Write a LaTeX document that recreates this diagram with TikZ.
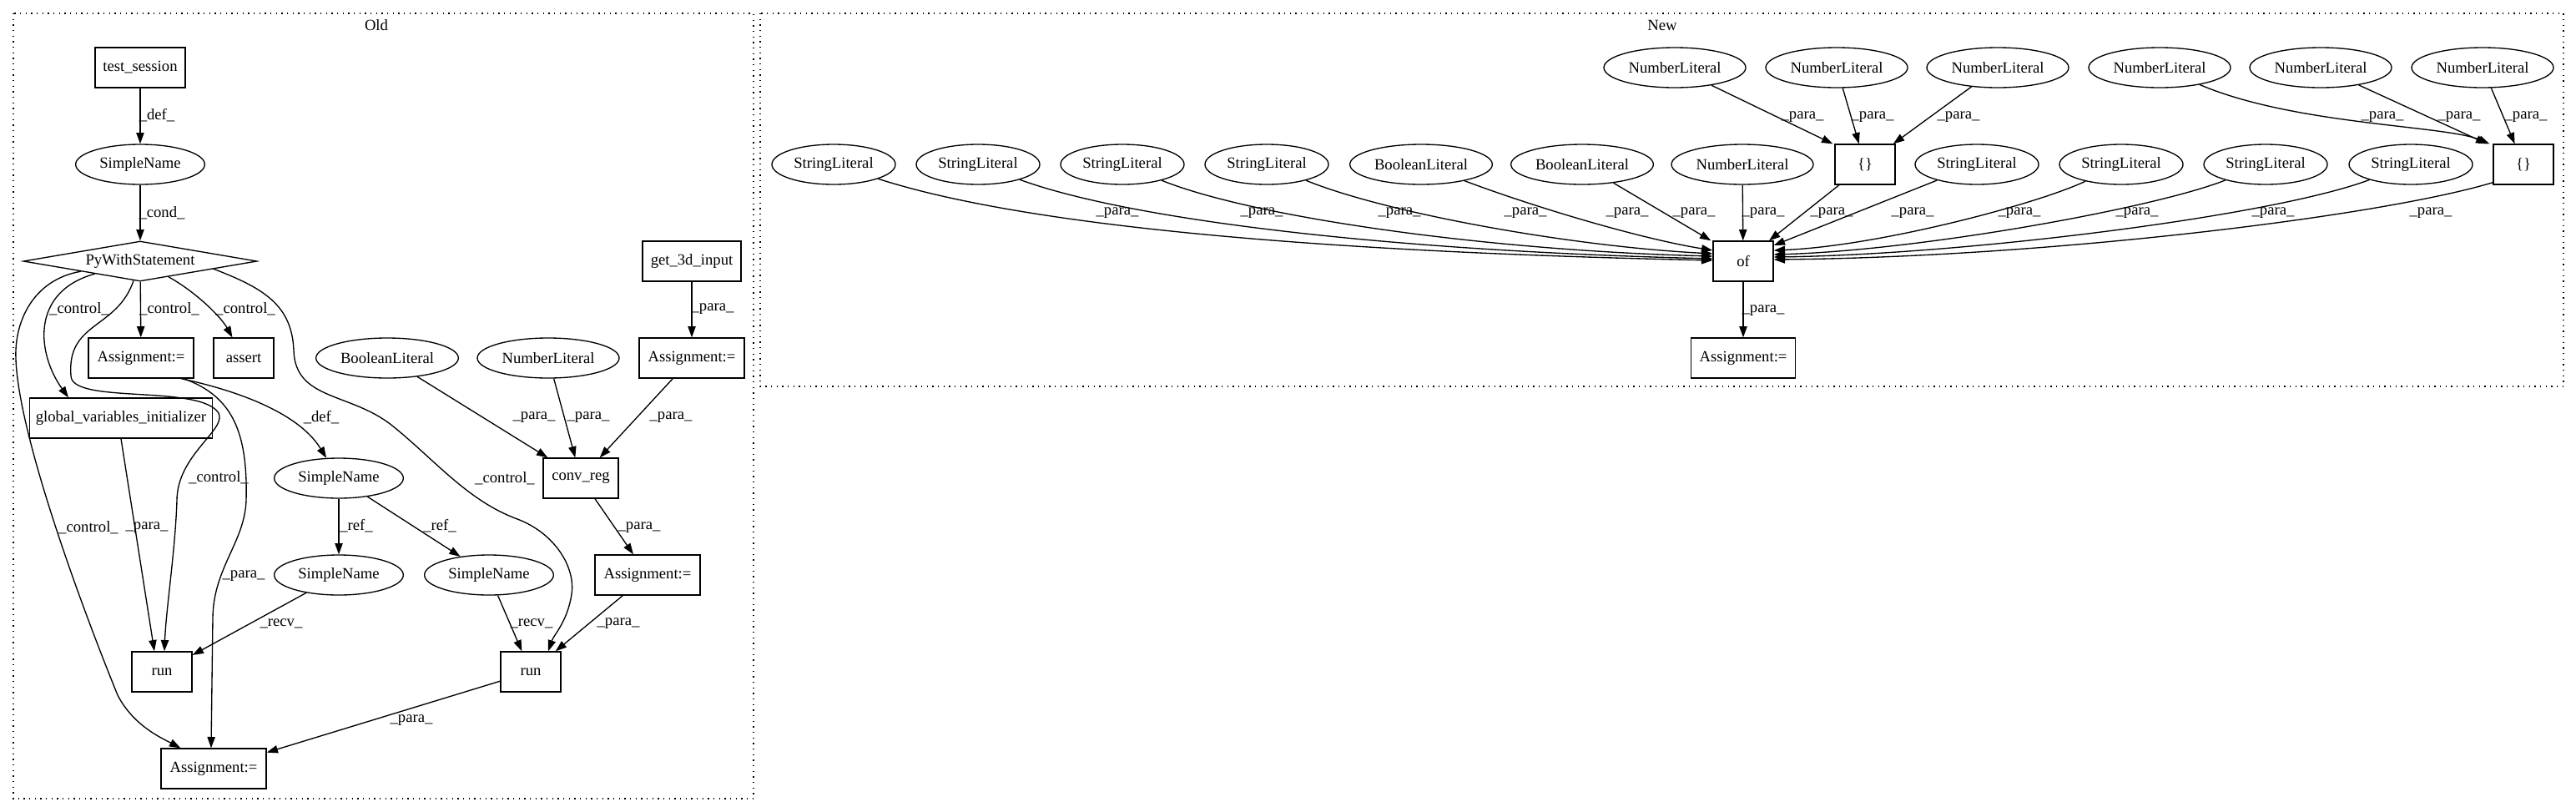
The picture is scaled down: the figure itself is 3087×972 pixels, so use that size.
\documentclass[tikz,border=0pt]{standalone}
\usepackage{fontspec}
\setmainfont{Liberation Serif}
\usetikzlibrary{shapes.geometric,arrows.meta,calc}
\tikzset{
  bx/.style={draw, rectangle, line width=1pt, minimum height=36pt, inner sep=0pt},
  el/.style={draw, ellipse, line width=1pt, minimum height=36pt, inner sep=0pt},
  dia/.style={draw, diamond, aspect=5.8, line width=1pt, minimum width=210pt, minimum height=36pt, inner sep=0pt},
  lbl/.style={inner sep=0pt},
  arr/.style={-{Triangle[length=10pt,width=7pt]}, line width=1pt},
  cl/.style={draw, line width=1pt, dash pattern=on 1pt off 4pt}
}
\begin{document}
\begin{tikzpicture}[x=0.75pt,y=-0.75pt,font=\fontsize{14}{16}\selectfont]
\useasboundingbox (0,0) rectangle (3087,972);
% clusters
\draw[cl] (16,16) rectangle (903,957);
\draw[cl] (911,16) rectangle (3072,463);
\node[lbl] (oldlbl) at (451,30) {Old};
\node[lbl] (newlbl) at (1992,30) {New};

% ---------------- Old ----------------
\node[bx, minimum width=81pt] (ts) at (168,81) {test\_session};
\node[el, minimum width=116pt] (sn1) at (168,197) {SimpleName};
\node[dia] (py) at (168,313) {PyWithStatement};
\node[bx, minimum width=88.5pt] (g3d) at (829,313) {get\_3d\_input};
\node[bx, minimum width=94.5pt] (asg1) at (169,429) {Assignment:=};
\node[bx, minimum width=54pt] (asrt) at (292,429) {assert};
\node[el, minimum width=128pt] (bl) at (464,429) {BooleanLiteral};
\node[el, minimum width=127.5pt] (nl) at (657,429) {NumberLiteral};
\node[bx, minimum width=94.5pt] (asg2) at (829,429) {Assignment:=};
\node[bx, minimum width=164pt] (gvi) at (145,501) {global\_variables\_initializer};
\node[el, minimum width=116pt] (sn2) at (406,573) {SimpleName};
\node[bx, minimum width=67.5pt] (conv) at (696,573) {conv\_reg};
\node[el, minimum width=116pt] (sn3) at (406,689) {SimpleName};
\node[el, minimum width=116pt] (sn4) at (586,689) {SimpleName};
\node[bx, minimum width=94.5pt] (asg3) at (776,689) {Assignment:=};
\node[bx, minimum width=54pt] (run1) at (194,805) {run};
\node[bx, minimum width=54pt] (run2) at (636,805) {run};
\node[bx, minimum width=94.5pt] (asg4) at (256,921) {Assignment:=};

\draw[arr] (ts) -- (sn1);
\draw[arr] (sn1) -- (py);
\draw[arr] (py) .. controls (35,350) and (45,425) .. ($(gvi.north west)+(47,0)$);
\draw[arr] (py) .. controls (40,335) and (17,385) .. (19,430)
  .. controls (22,520) and (95,720) .. (141,833)
  .. controls (160,870) and (195,885) .. ($(asg4.north west)+(24,0)$);
\draw[arr] (py) .. controls (140,395) and (80,385) .. (85,450)
  .. controls (85,485) and (240,460) .. (262,495)
  .. controls (272,515) and (212,545) .. (212,600)
  .. controls (210,660) and (199,730) .. ($(run1.north)+(3,0)$);
\draw[arr] (py) -- (asg1);
\draw[arr] (py) .. controls (235,350) and (265,380) .. (asrt);
\draw[arr] (py.-6) .. controls (315,345) and (350,365) .. (352,420)
  .. controls (354,480) and (420,470) .. (470,510)
  .. controls (520,550) and (560,600) .. (620,622)
  .. controls (665,639) and (690,680) .. (685,712)
  .. controls (680,745) and (664,760) .. ($(run2.north)+(21,0)$);
\draw[arr] ($(asg1.south)+(48,0)$) .. controls (270,465) and (355,490) .. (sn2);
\draw[arr] ($(asg1.south)+(51,0)$) .. controls (280,475) and (297,520) .. (295,600)
  .. controls (293,650) and (256,680) .. (255,740) -- ($(asg4.north)+(-3,0)$);
\draw[arr] (gvi.south) -- ($(run1.north)+(-9,0)$);
\draw[arr] (sn2) -- (sn3);
\draw[arr] (sn2) -- (sn4);
\draw[arr] (sn3) -- (run1);
\draw[arr] (sn4) -- (run2);
\draw[arr] (asg3) -- (run2);
\draw[arr] (run2) -- (asg4);
\draw[arr] (g3d) -- (asg2);
\draw[arr] (bl) -- (conv);
\draw[arr] (nl) -- (conv);
\draw[arr] (asg2) -- (conv);
\draw[arr] (conv) -- (asg3);

\node[lbl] (lo1) at (188,138) {\_def\_};
\node[lbl] (lo2) at (194,255) {\_cond\_};
\node[lbl] (lo3) at (95,370) {\_control\_};
\node[lbl] (lo4) at (203,370) {\_control\_};
\node[lbl] (lo5) at (294,370) {\_control\_};
\node[lbl] (lo6) at (854,370) {\_para\_};
\node[lbl] (lo7) at (385,500) {\_def\_};
\node[lbl] (lo8) at (640,500) {\_para\_};
\node[lbl] (lo9) at (705,500) {\_para\_};
\node[lbl] (lo10) at (804,500) {\_para\_};
\node[lbl] (lo11) at (262,572) {\_control\_};
\node[lbl] (lo12) at (605,573) {\_control\_};
\node[lbl] (lo13) at (106,632) {\_control\_};
\node[lbl] (lo14) at (176,632) {\_para\_};
\node[lbl] (lo15) at (427,630) {\_ref\_};
\node[lbl] (lo16) at (527,630) {\_ref\_};
\node[lbl] (lo17) at (766,632) {\_para\_};
\node[lbl] (lo18) at (292,690) {\_para\_};
\node[lbl] (lo19) at (337,747) {\_recv\_};
\node[lbl] (lo20) at (637,747) {\_recv\_};
\node[lbl] (lo21) at (741,747) {\_para\_};
\node[lbl] (lo22) at (493,863) {\_para\_};

% ---------------- New ----------------
\node[el, minimum width=127.5pt] (n1) at (2007,81) {NumberLiteral};
\node[el, minimum width=127.5pt] (n2) at (2201,81) {NumberLiteral};
\node[el, minimum width=127.5pt] (n3) at (2394,81) {NumberLiteral};
\node[el, minimum width=127.5pt] (n4) at (2588,81) {NumberLiteral};
\node[el, minimum width=127.5pt] (n5) at (2781,81) {NumberLiteral};
\node[el, minimum width=127.5pt] (n6) at (2975,81) {NumberLiteral};

\node[el, minimum width=111pt] (s1) at (999,197) {StringLiteral};
\node[el, minimum width=111pt] (s2) at (1172,197) {StringLiteral};
\node[el, minimum width=111pt] (s3) at (1345,197) {StringLiteral};
\node[el, minimum width=111pt] (s4) at (1518,197) {StringLiteral};
\node[el, minimum width=128pt] (b1) at (1703,197) {BooleanLiteral};
\node[el, minimum width=128pt] (b2) at (1896,197) {BooleanLiteral};
\node[el, minimum width=127.5pt] (nm) at (2088,197) {NumberLiteral};
\node[bx, minimum width=54pt] (br1) at (2235,197) {\{\}};
\node[el, minimum width=111pt] (s5) at (2369,197) {StringLiteral};
\node[el, minimum width=111pt] (s6) at (2542,197) {StringLiteral};
\node[el, minimum width=111pt] (s7) at (2715,197) {StringLiteral};
\node[el, minimum width=111pt] (s8) at (2889,197) {StringLiteral};
\node[bx, minimum width=54pt] (br2) at (3024,197) {\{\}};
\node[bx, minimum width=54pt] (of) at (2089,313) {of};
\node[bx, minimum width=94pt] (asg5) at (2089,429) {Assignment:=};

\draw[arr] (n1) -- ($(br1.north west)+(-2,0)$);
\draw[arr] (n2) -- (br1);
\draw[arr] (n3) -- (br1);
\draw[arr] (n4) .. controls (2750,150) and (2930,150) .. ($(br2.north west)+(-4,0)$);
\draw[arr] (n5) -- ($(br2.north west)+(-7,0)$);
\draw[arr] (n6) -- (br2);

\draw[arr] (s1) .. controls (1200,262) and (1500,300) .. ($(of.west)+(0,-1)$);
\draw[arr] (s2) .. controls (1350,262) and (1650,300) .. ($(of.west)+(0,-3)$);
\draw[arr] (s3) .. controls (1500,260) and (1780,300) .. ($(of.west)+(0,-6)$);
\draw[arr] (s4) .. controls (1660,255) and (1880,295) .. ($(of.west)+(0,-9)$);
\draw[arr] (b1) .. controls (1830,245) and (1960,285) .. ($(of.west)+(0,-13)$);
\draw[arr] (b2) -- ($(of.north west)+(-2,0)$);
\draw[arr] (nm) -- (of);
\draw[arr] (br1) -- (of);
\draw[arr] (s5) -- ($(of.east)+(0,-19)$);
\draw[arr] (s6) .. controls (2440,245) and (2250,295) .. ($(of.east)+(0,-13)$);
\draw[arr] (s7) .. controls (2580,250) and (2300,300) .. ($(of.east)+(0,-8)$);
\draw[arr] (s8) .. controls (2720,260) and (2350,305) .. ($(of.east)+(0,-5)$);
\draw[arr] ($(br2.south west)+(0,-3)$) .. controls (2850,260) and (2450,308) .. ($(of.east)+(0,-2)$);
\draw[arr] (of) -- (asg5);

\node[lbl] (ln1) at (2160,140) {\_para\_};
\node[lbl] (ln2) at (2244,140) {\_para\_};
\node[lbl] (ln3) at (2347,140) {\_para\_};
\node[lbl] (ln4) at (2855,140) {\_para\_};
\node[lbl] (ln5) at (2947,140) {\_para\_};
\node[lbl] (ln6) at (3027,140) {\_para\_};
\node[lbl] (lm1) at (1339,255) {\_para\_};
\node[lbl] (lm2) at (1512,255) {\_para\_};
\node[lbl] (lm3) at (1677,255) {\_para\_};
\node[lbl] (lm4) at (1828,255) {\_para\_};
\node[lbl] (lm5) at (1950,255) {\_para\_};
\node[lbl] (lm6) at (2030,255) {\_para\_};
\node[lbl] (lm7) at (2113,255) {\_para\_};
\node[lbl] (lm8) at (2195,255) {\_para\_};
\node[lbl] (lm9) at (2292,255) {\_para\_};
\node[lbl] (lm10) at (2420,255) {\_para\_};
\node[lbl] (lm11) at (2561,255) {\_para\_};
\node[lbl] (lm12) at (2724,255) {\_para\_};
\node[lbl] (lm13) at (2913,255) {\_para\_};
\node[lbl] (lb1) at (2113,372) {\_para\_};
\end{tikzpicture}
\end{document}
